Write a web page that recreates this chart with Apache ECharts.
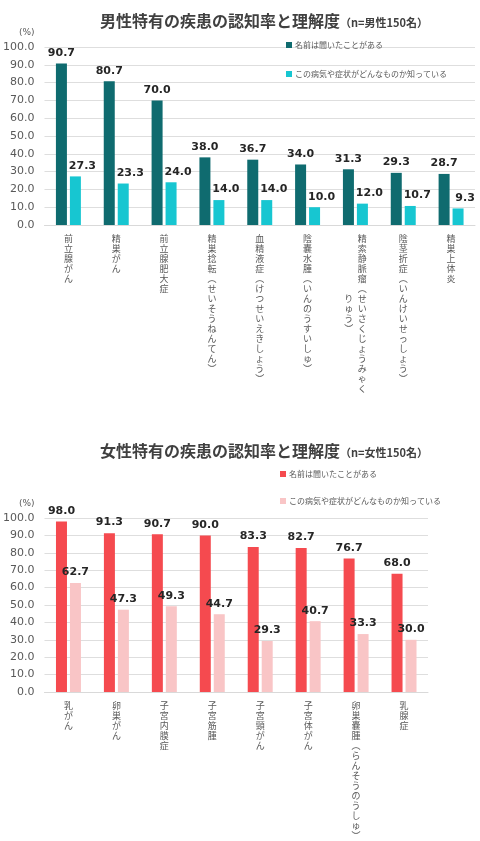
<!DOCTYPE html>
<html>
<head>
<meta charset="utf-8">
<script src="https://cdn.jsdelivr.net/npm/echarts@6/dist/echarts.min.js"></script>
<style>
html,body{margin:0;padding:0;background:#fff;}
#c1{width:480px;height:420px;}
#c2{width:480px;height:421px;}
</style>
</head>
<body>
<div id="c1"></div>
<div id="c2"></div>
<script>
// ---- data ----
const seriesNames = ['名前は聞いたことがある', 'この病気や症状がどんなものか知っている'];

const maleTitle = '男性特有の疾患の認知率と理解度';
const maleSub = '（n=男性150名）';
const maleCategories = ['前立腺がん','精巣がん','前立腺肥大症','精巣捻転（せいそうねんてん）','血精液症（けつせいえきしょう）','陰嚢水腫（いんのうすいしゅ）','精索静脈瘤（せいさくじょうみゃくりゅう）','陰茎折症（いんけいせっしょう）','精巣上体炎'];
const maleKnown = [90.7, 80.7, 70.0, 38.0, 36.7, 34.0, 31.3, 29.3, 28.7];
const maleUnderstand = [27.3, 23.3, 24.0, 14.0, 14.0, 10.0, 12.0, 10.7, 9.3];

const femaleTitle = '女性特有の疾患の認知率と理解度';
const femaleSub = '（n=女性150名）';
const femaleCategories = ['乳がん','卵巣がん','子宮内膜症','子宮筋腫','子宮頸がん','子宮体がん','卵巣嚢腫（らんそうのうしゅ）','乳腺症'];
const femaleKnown = [98.0, 91.3, 90.7, 90.0, 83.3, 82.7, 76.7, 68.0];
const femaleUnderstand = [62.7, 47.3, 49.3, 44.7, 29.3, 40.7, 33.3, 30.0];

const yMin = 0, yMax = 100, yStep = 10;

// ---- helpers ----
const JP = '"Noto Sans CJK JP", sans-serif';
const NUM = '"DejaVu Sans", Verdana, sans-serif';

function vert(s, maxLen) {
  s = s.replace(/（/g, '︵').replace(/）/g, '︶');
  const chars = Array.from(s);
  const cols = [];
  for (let i = 0; i < chars.length; i += maxLen) cols.push(chars.slice(i, i + maxLen));
  const n = cols[0].length;
  const rows = [];
  for (let r = 0; r < n; r++) {
    const parts = [];
    for (let c = cols.length - 1; c >= 0; c--) {
      const col = cols[c];
      const off = Math.floor((n - col.length) / 2);
      parts.push(col[r - off] || '　');
    }
    rows.push(parts.join('\u2002'));
  }
  return rows.join('\n');
}

function makeOption(cfg) {
  return {
    backgroundColor: '#fff',
    animation: false,
    title: {
      text: '{a|' + cfg.title + '}{b|' + cfg.sub + '}',
      left: 95,
      top: cfg.titleTop,
      textStyle: {
        rich: {
          a: { fontFamily: JP, fontWeight: 'bold', fontSize: 16, color: '#404040' },
          b: { fontFamily: JP, fontWeight: 'bold', fontSize: 11, color: '#404040', padding: [3, 0, 0, 0] }
        }
      }
    },
    legend: {
      orient: 'vertical',
      left: cfg.legendLeft,
      top: cfg.legendTop,
      itemWidth: 6,
      itemHeight: 6,
      itemGap: cfg.legendGap,
      icon: 'rect',
      textStyle: { fontFamily: JP, fontSize: 8, color: '#595959', padding: [0, 0, 0, -2] },
      data: seriesNames
    },
    grid: { left: 43, right: cfg.gridRight, top: cfg.gridTop, bottom: cfg.gridBottom, containLabel: false },
    xAxis: {
      type: 'category',
      data: cfg.categories,
      axisTick: { show: false },
      axisLine: { lineStyle: { color: '#d9d9d9' } },
      axisLabel: {
        interval: 0,
        margin: 9,
        fontFamily: JP,
        fontSize: 9,
        lineHeight: 10,
        color: '#595959',
        verticalAlign: 'top',
        formatter: v => vert(v, 16)
      }
    },
    yAxis: {
      type: 'value',
      min: yMin,
      max: yMax,
      interval: yStep,
      name: '(%)',
      nameLocation: 'end',
      nameGap: cfg.nameGap,
      nameTextStyle: { fontFamily: NUM, fontSize: 9, color: '#595959', align: 'right', padding: [0, 10, 0, 0] },
      axisLine: { show: false },
      axisTick: { show: false },
      splitLine: { lineStyle: { color: '#dedede' } },
      axisLabel: {
        margin: 10,
        fontFamily: NUM,
        fontSize: 11,
        color: '#595959',
        formatter: v => v.toFixed(1)
      }
    },
    series: [
      {
        name: seriesNames[0],
        type: 'bar',
        data: cfg.known,
        barWidth: 11,
        barGap: '27%',
        itemStyle: { color: cfg.colors[0] },
        label: {
          show: true, position: 'top', distance: 5,
          fontFamily: NUM, fontWeight: 'bold', fontSize: 11, color: '#262626',
          formatter: p => p.value.toFixed(1)
        }
      },
      {
        name: seriesNames[1],
        type: 'bar',
        data: cfg.understand,
        barWidth: 11,
        itemStyle: { color: cfg.colors[1] },
        label: {
          show: true, position: 'top', distance: 5, offset: cfg.lightOffset,
          fontFamily: NUM, fontWeight: 'bold', fontSize: 11, color: '#262626',
          formatter: p => p.value.toFixed(1)
        }
      }
    ]
  };
}

const c1 = echarts.init(document.getElementById('c1'));
c1.setOption(makeOption({
  title: maleTitle, sub: maleSub, titleTop: 8,
  categories: maleCategories, known: maleKnown, understand: maleUnderstand,
  colors: ['#0f6b6f', '#17c6d1'],
  legendLeft: 281, legendTop: 36, legendGap: 21,
  gridRight: 5, gridTop: 47, gridBottom: 195, nameGap: 10,
  lightOffset: [7, 0]
}));

const c2 = echarts.init(document.getElementById('c2'));
c2.setOption(makeOption({
  title: femaleTitle, sub: femaleSub, titleTop: 18,
  categories: femaleCategories, known: femaleKnown, understand: femaleUnderstand,
  colors: ['#f54a4f', '#f9c5c6'],
  legendLeft: 275, legendTop: 45, legendGap: 19,
  gridRight: 52, gridTop: 98, gridBottom: 145, nameGap: 10,
  lightOffset: [0, 0]
}));
</script>
</body>
</html>
